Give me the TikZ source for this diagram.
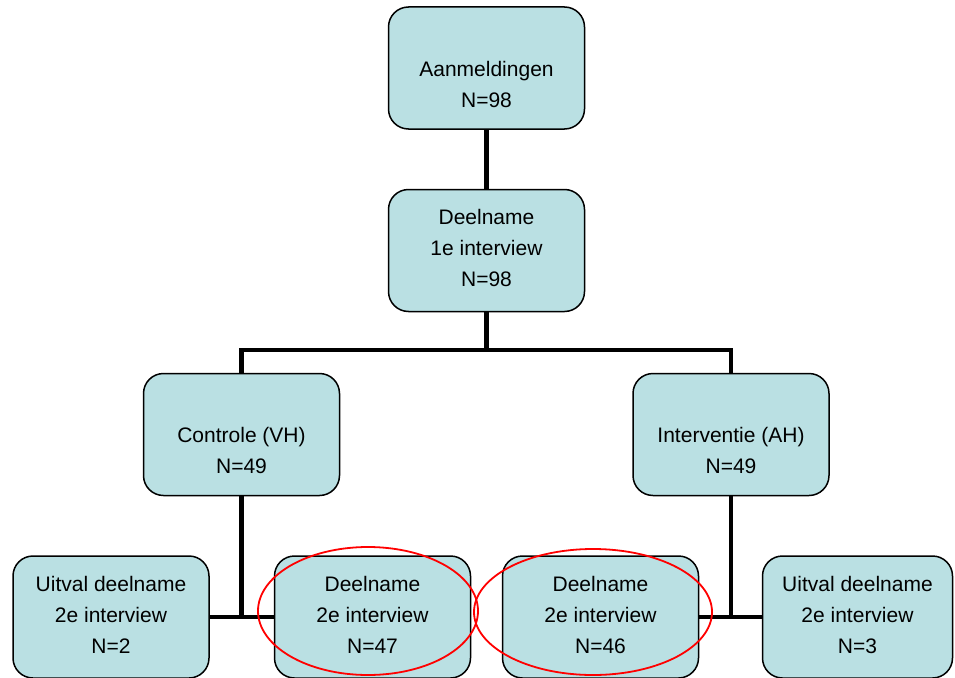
\documentclass[tikz,border=0pt]{standalone}
\usepackage{fontspec}
\setmainfont{Liberation Sans}
\usetikzlibrary{backgrounds}
\definecolor{boxfill}{RGB}{186,224,227}
\begin{document}
\begin{tikzpicture}[x=1pt,y=-1pt,
  box/.style={draw=black, line width=1.5pt, fill=boxfill, rounded corners=20pt,
    minimum width=196pt, minimum height=122pt, align=center, inner sep=0pt,
    font=\fontsize{21}{31}\selectfont},
  twoline/.style={text height=78pt, text depth=0pt},
  threeline/.style={text height=72pt, text depth=0pt},
  link/.style={line width=4.5pt},
  ring/.style={draw=red, line width=1.8pt}]
\useasboundingbox (0,0) rectangle (955,677);

% flow chart boxes
\node[box, twoline] (a) at (486.5,68)  {Aanmeldingen\\N=98};
\node[box, threeline] (b) at (486.5,250.5) {Deelname\\1e interview\\N=98};
\node[box, twoline] (c) at (241.5,434.5) {Controle (VH)\\N=49};
\node[box, twoline] (d) at (731,434.5)   {Interventie (AH)\\N=49};
\node[box, threeline] (e) at (111,617)     {Uitval deelname\\2e interview\\N=2};
\node[box, threeline] (f) at (372.5,617)   {Deelname\\2e interview\\N=47};
\node[box, threeline] (g) at (600.5,617)   {Deelname\\2e interview\\N=46};
\node[box, threeline, minimum width=190pt] (h) at (857.5,617) {Uitval deelname\\2e interview\\N=3};

% connectors behind the boxes
\begin{pgfonlayer}{background}
  \coordinate (split) at (486.5,350);
  \draw[link] (a.south) -- (b.south);
  \draw[link] (b.south) -- (split);
  \draw[link] (c.north) |- (split) -| (d.north);
  \draw[link] (c.south) -- (c.south |- e.east);
  \draw[link] (e.east) -- (f.west);
  \draw[link] (d.south) -- (d.south |- g.east);
  \draw[link] (g.east) -- (h.west);
\end{pgfonlayer}

% highlight rings
\draw[ring] (368,611) ellipse [x radius=110, y radius=64];
\draw[ring] (593,612) ellipse [x radius=119, y radius=63];
\end{tikzpicture}
\end{document}
